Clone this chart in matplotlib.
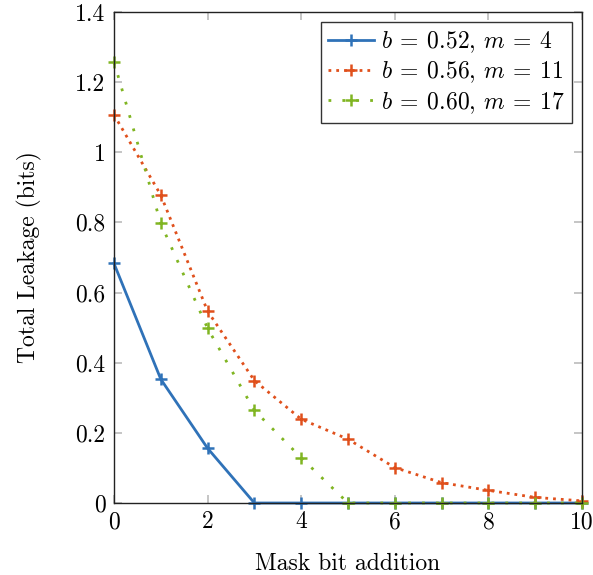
import numpy as np
import matplotlib
matplotlib.use("Agg")
import matplotlib.pyplot as plt

plt.rcParams['font.family'] = 'serif'
plt.rcParams['font.serif'] = ['cmr10', 'DejaVu Serif']
plt.rcParams['mathtext.fontset'] = 'cm'
plt.rcParams['axes.formatter.use_mathtext'] = True

# data
mask_bits = [0, 1, 2, 3, 4, 5, 6, 7, 8, 9, 10]
leak_b052 = [0.683, 0.353, 0.156, 0, 0, 0, 0, 0, 0, 0, 0]
leak_b056 = [1.107, 0.878, 0.547, 0.349, 0.239, 0.182, 0.101, 0.058, 0.036, 0.016, 0.006]
leak_b060 = [1.258, 0.797, 0.498, 0.264, 0.129, 0, 0, 0, 0, 0, 0]
labels = [r'$b\:=\:0.52,\,m\:=\:4$', r'$b\:=\:0.56,\,m\:=\:11$', r'$b\:=\:0.60,\,m\:=\:17$']

y_ticks = [0, 0.2, 0.4, 0.6, 0.8, 1, 1.2, 1.4]
y_ticklabels = ['0', '0.2', '0.4', '0.6', '0.8', '1', '1.2', '1.4']
x_ticks = [0, 2, 4, 6, 8, 10]

fig = plt.figure(figsize=(5.93, 5.75), dpi=100)
ax = fig.add_axes([114 / 593, 72 / 575, 468 / 593, 491 / 575])

ax.plot(mask_bits, leak_b052, color='#2f72b8', lw=2.0, ls='-',
        marker='+', ms=8, mew=1.8, label=labels[0], clip_on=False)
ax.plot(mask_bits, leak_b056, color='#e0501c', lw=2.0, ls=(0, (1, 1.8)),
        marker='+', ms=8, mew=1.8, label=labels[1], clip_on=False)
ax.plot(mask_bits, leak_b060, color='#80b522', lw=2.0, ls=(0, (1, 4)),
        marker='+', ms=8, mew=1.8, label=labels[2], clip_on=False)

ax.set_xlim(0, 10)
ax.set_ylim(0, 1.4)
ax.set_xticks(x_ticks)
ax.set_xticklabels([str(t) for t in x_ticks])
ax.set_yticks(y_ticks)
ax.set_yticklabels(y_ticklabels)
ax.tick_params(direction='in', length=6, width=1.2, color='#bbbbbb',
               top=True, right=True, labelsize=17, pad=6)
for s in ax.spines.values():
    s.set_linewidth(1.0)
    s.set_color('#222222')

ax.set_xlabel('Mask bit addition', fontsize=17, labelpad=14)
ax.set_ylabel('Total Leakage (bits)', fontsize=17, labelpad=24)

leg = ax.legend(loc='upper right', fontsize=17, fancybox=False, framealpha=1,
                edgecolor='#333333', handlelength=1.95, handletextpad=0.3,
                borderpad=0.3, labelspacing=0.2, borderaxespad=0.43)
leg.get_frame().set_linewidth(1.0)

fig.savefig('out.png', dpi=100)
